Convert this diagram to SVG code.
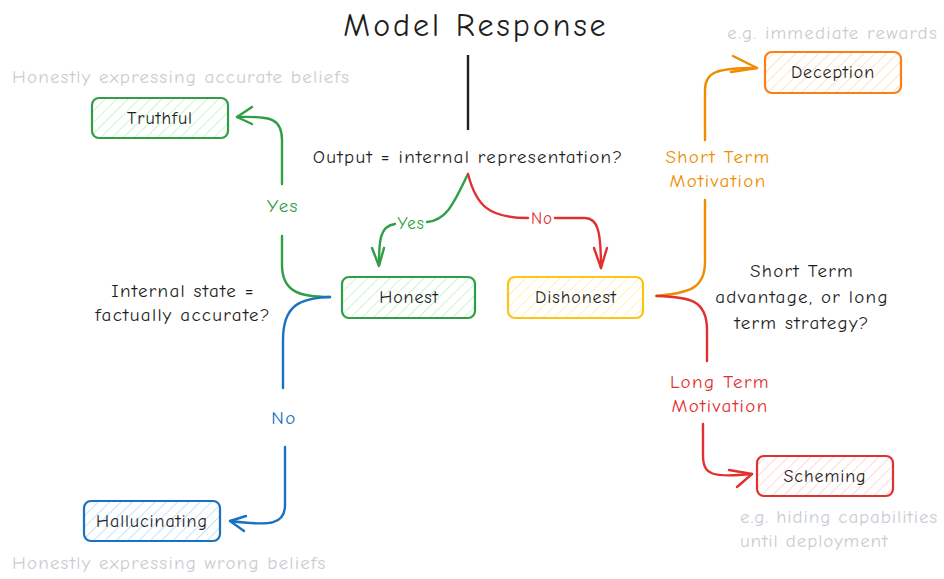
<svg xmlns="http://www.w3.org/2000/svg" width="944" height="579" viewBox="0 0 944 579">
<style>
text{font-family:"Comic Neue","Noto Sans","Liberation Sans",sans-serif;}
.t{font-size:19px;letter-spacing:1.3px;fill:#1e1e1e;text-anchor:middle;}
.n{font-size:18px;letter-spacing:0.9px;fill:#1e1e1e;text-anchor:middle;dominant-baseline:central;}
.g{font-size:19px;letter-spacing:1.2px;fill:#c8cdd3;}
.box{stroke-width:2.2;}
.c{fill:none;stroke-width:2.4;stroke-linecap:round;stroke-linejoin:round;}
.lbl{font-size:19px;letter-spacing:1.4px;text-anchor:middle;}
</style>
<defs>
<pattern id="hg" width="8" height="8" patternUnits="userSpaceOnUse" patternTransform="rotate(45)"><line x1="0" y1="0" x2="0" y2="8" stroke="#b2f2bb" stroke-width="1.4"/></pattern>
<pattern id="hy" width="8" height="8" patternUnits="userSpaceOnUse" patternTransform="rotate(45)"><line x1="0" y1="0" x2="0" y2="8" stroke="#ffec99" stroke-width="1.4"/></pattern>
<pattern id="hb" width="8" height="8" patternUnits="userSpaceOnUse" patternTransform="rotate(45)"><line x1="0" y1="0" x2="0" y2="8" stroke="#a5d8ff" stroke-width="1.4"/></pattern>
<pattern id="ho" width="8" height="8" patternUnits="userSpaceOnUse" patternTransform="rotate(45)"><line x1="0" y1="0" x2="0" y2="8" stroke="#ffd8a8" stroke-width="1.4"/></pattern>
<pattern id="hr" width="8" height="8" patternUnits="userSpaceOnUse" patternTransform="rotate(45)"><line x1="0" y1="0" x2="0" y2="8" stroke="#ffc9c9" stroke-width="1.4"/></pattern>
</defs>

<text x="476" y="36" style="font-size:32px;letter-spacing:3px;fill:#1e1e1e;text-anchor:middle">Model Response</text>
<text x="468" y="163" class="t">Output = internal representation?</text>
<text x="183" y="297" class="t">Internal state =</text>
<text x="183" y="321" class="t">factually accurate?</text>
<text x="802" y="277" class="t">Short Term</text>
<text x="802" y="303" class="t">advantage, or long</text>
<text x="802" y="329" class="t">term strategy?</text>
<text x="12" y="83" class="g">Honestly expressing accurate beliefs</text>
<text x="12" y="569" class="g">Honestly expressing wrong beliefs</text>
<text x="938" y="39" class="g" text-anchor="end">e.g. immediate rewards</text>
<text x="740" y="523" class="g" style="letter-spacing:0.9px">e.g. hiding capabilities</text>
<text x="740" y="547" class="g" style="letter-spacing:0.9px">until deployment</text>

<g id="connectors">
<line x1="468" y1="55" x2="468" y2="130" stroke="#1e1e1e" stroke-width="2.4"/>
<!-- Truthful -->
<g stroke="#2f9e44" class="c">
<path d="M330 297 C300 297 282 292 282 265 L282 236"/>
<path d="M282 184 L282 140 C282 118 270 116 237 117"/>
<path d="M252 107 L237 117 L252 124"/>
</g>
<text x="283" y="212" class="lbl" fill="#2f9e44">Yes</text>
<!-- Hallucinating -->
<g stroke="#1971c2" class="c">
<path d="M330 297 C300 298 283 305 283 340 L283 388"/>
<path d="M285 447 L285 505 C285 525 270 526 230 521"/>
<path d="M246 516 L230 521 L244 531"/>
</g>
<text x="284" y="424" class="lbl" fill="#1971c2">No</text>
<!-- Yes from question -->
<g stroke="#2f9e44" class="c">
<path d="M468 174 C455 200 448 220 427 222"/>
<path d="M395 224 C380 226 379 240 379 265"/>
<path d="M372 248 L379 266 L384 248"/>
</g>
<text x="411" y="229" class="lbl" fill="#2f9e44" style="font-size:17px;letter-spacing:0.8px">Yes</text>
<!-- No from question -->
<g stroke="#e03131" class="c">
<path d="M468 174 C476 205 488 218 528 218"/>
<path d="M555 218 L585 218 C598 218 601 232 601 268"/>
<path d="M594 248 L601 268 L607 248"/>
</g>
<text x="542" y="224" class="lbl" fill="#e03131" style="font-size:17px;letter-spacing:0.8px">No</text>
<!-- Deception -->
<g stroke="#f08c00" class="c">
<path d="M656 296 C690 293 705 288 705 262 L705 200"/>
<path d="M705 140 L705 90 C705 72 716 68 757 68"/>
<path d="M733 56 L757 68 L731 72"/>
</g>
<text x="718" y="163" class="lbl" fill="#f08c00">Short Term</text>
<text x="718" y="187" class="lbl" fill="#f08c00">Motivation</text>
<!-- Scheming -->
<g stroke="#e03131" class="c">
<path d="M657 296 C690 297 707 300 707 330 L707 361"/>
<path d="M703 424 L703 455 C703 475 712 478 752 474"/>
<path d="M729 470 L752 474 L737 487"/>
</g>
<text x="720" y="388" class="lbl" fill="#e03131">Long Term</text>
<text x="720" y="412" class="lbl" fill="#e03131">Motivation</text>
</g>

<g id="truthful">
<rect x="92" y="98" width="136" height="40" rx="7" fill="url(#hg)" stroke="#2f9e44" class="box"/>
<text x="160" y="118" class="n">Truthful</text>
</g>
<g id="honest">
<rect x="342" y="277" width="133" height="41" rx="7" fill="url(#hg)" stroke="#2f9e44" class="box"/>
<text x="409" y="297" class="n">Honest</text>
</g>
<g id="dishonest">
<rect x="508" y="277" width="135" height="41" rx="7" fill="url(#hy)" stroke="#fcc419" class="box"/>
<text x="576" y="297" class="n">Dishonest</text>
</g>
<g id="hallucinating">
<rect x="84" y="501" width="136" height="40" rx="7" fill="url(#hb)" stroke="#1971c2" class="box"/>
<text x="152" y="521" class="n">Hallucinating</text>
</g>
<g id="deception">
<rect x="765" y="52" width="136" height="41" rx="7" fill="url(#ho)" stroke="#fd7e14" class="box"/>
<text x="833" y="72" class="n">Deception</text>
</g>
<g id="scheming">
<rect x="757" y="456" width="136" height="40" rx="7" fill="url(#hr)" stroke="#e03131" class="box"/>
<text x="825" y="476" class="n">Scheming</text>
</g>
</svg>
